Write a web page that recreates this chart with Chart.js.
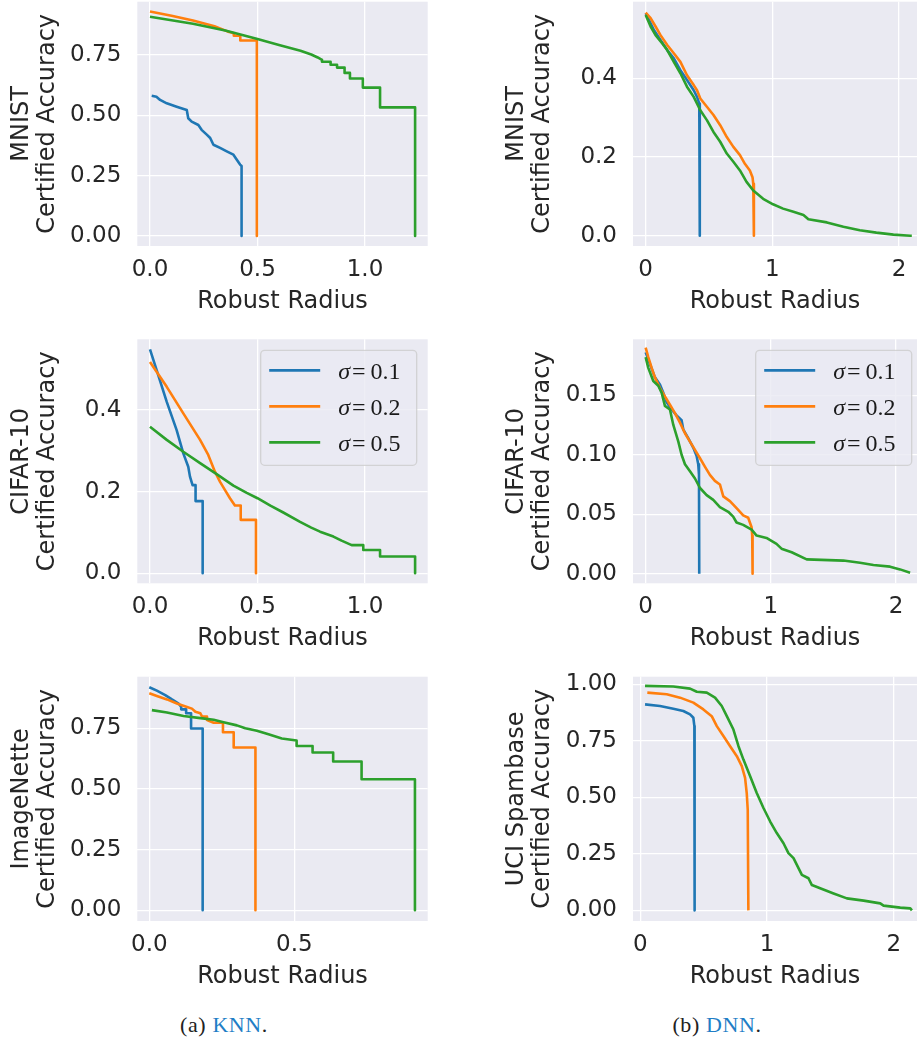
<!DOCTYPE html>
<html>
<head>
<meta charset="utf-8">
<script src="https://cdn.jsdelivr.net/npm/chart.js@4.4.1/dist/chart.umd.min.js"></script>
<style>
html,body{margin:0;padding:0;background:#fff;overflow:hidden;width:917px;height:1046px;}
canvas.panel{position:absolute;}
.cap{position:absolute;width:240px;text-align:center;font-family:"Liberation Serif",serif;font-size:22px;letter-spacing:0.6px;line-height:24px;color:#222;top:1013px;}
.cap span{color:#1f7ec6;}
</style>
</head>
<body>
<canvas id="c1" class="panel"></canvas>
<canvas id="c2" class="panel"></canvas>
<canvas id="c3" class="panel"></canvas>
<canvas id="c4" class="panel"></canvas>
<canvas id="c5" class="panel"></canvas>
<canvas id="c6" class="panel"></canvas>
<div class="cap" style="left:104px">(a) <span>KNN</span>.</div>
<div class="cap" style="left:597px">(b) <span>DNN</span>.</div>
<script>
// ---------------- data ----------------
const sigmaValues = ['0.1', '0.2', '0.5'];
const xTitle = 'Robust Radius';
const yTitleLine2 = 'Certified Accuracy';
const datasetNames = ['MNIST', 'MNIST', 'CIFAR-10', 'CIFAR-10', 'ImageNette', 'UCI Spambase'];

// tick values / labels
const ticksX_knnA = [0, 0.5, 1.0];       const labelsX_knnA = ['0.0', '0.5', '1.0'];
const ticksX_knnB = [0, 0.5];            const labelsX_knnB = ['0.0', '0.5'];
const ticksX_dnn = [0, 1, 2];            const labelsX_dnn = ['0', '1', '2'];
const ticksY_quarter = [0, 0.25, 0.5, 0.75];        const labelsY_quarter = ['0.00', '0.25', '0.50', '0.75'];
const ticksY_quarter1 = [0, 0.25, 0.5, 0.75, 1.0];  const labelsY_quarter1 = ['0.00', '0.25', '0.50', '0.75', '1.00'];
const ticksY_fifth = [0, 0.2, 0.4];                 const labelsY_fifth = ['0.0', '0.2', '0.4'];
const ticksY_small = [0, 0.05, 0.10, 0.15];         const labelsY_small = ['0.00', '0.05', '0.10', '0.15'];

// KNN - MNIST
const knnMnist01 = [[0.008,0.581],[0.03,0.577],[0.047,0.564],[0.078,0.55],[0.124,0.536],[0.171,0.522],[0.178,0.488],[0.194,0.474],[0.225,0.46],[0.24,0.44],[0.264,0.42],[0.28,0.406],[0.295,0.378],[0.326,0.365],[0.357,0.351],[0.388,0.337],[0.403,0.317],[0.419,0.296],[0.426,0.29],[0.426,0]];
const knnMnist02 = [[0,0.93],[0.1,0.913],[0.2,0.893],[0.3,0.869],[0.36,0.848],[0.39,0.84],[0.39,0.83],[0.42,0.83],[0.42,0.81],[0.497,0.81],[0.497,0]];
const knnMnist05 = [[0,0.909],[0.2,0.88],[0.35,0.852],[0.5,0.816],[0.6,0.792],[0.7,0.768],[0.75,0.752],[0.78,0.74],[0.8,0.73],[0.8,0.722],[0.84,0.722],[0.84,0.71],[0.87,0.71],[0.87,0.698],[0.905,0.698],[0.905,0.676],[0.93,0.676],[0.93,0.653],[0.99,0.653],[0.99,0.615],[1.07,0.615],[1.07,0.533],[1.233,0.533],[1.233,0]];

// DNN - MNIST
const dnnMnist01 = [[0,0.566],[0.065,0.523],[0.117,0.498],[0.17,0.472],[0.222,0.451],[0.274,0.421],[0.326,0.396],[0.379,0.37],[0.405,0.353],[0.423,0.336],[0.426,0.319],[0.428,0]];
const dnnMnist02 = [[0,0.567],[0.039,0.553],[0.078,0.532],[0.117,0.51],[0.17,0.485],[0.222,0.464],[0.274,0.442],[0.326,0.408],[0.379,0.383],[0.405,0.37],[0.431,0.349],[0.483,0.328],[0.535,0.307],[0.588,0.281],[0.64,0.251],[0.692,0.226],[0.744,0.205],[0.783,0.183],[0.822,0.166],[0.843,0.149],[0.849,0.132],[0.854,0]];
const dnnMnist05 = [[0,0.561],[0.039,0.532],[0.078,0.51],[0.131,0.489],[0.17,0.472],[0.222,0.442],[0.274,0.413],[0.326,0.379],[0.379,0.353],[0.431,0.319],[0.483,0.294],[0.535,0.264],[0.588,0.239],[0.64,0.209],[0.692,0.188],[0.744,0.166],[0.796,0.137],[0.849,0.115],[0.927,0.094],[1.005,0.08],[1.084,0.069],[1.166,0.061],[1.245,0.053],[1.284,0.042],[1.43,0.034],[1.56,0.023],[1.69,0.014],[1.82,0.008],[1.955,0.003],[2.087,0.0],[2.1,0.0]];

// KNN - CIFAR-10
const knnCifar01 = [[0,0.549],[0.031,0.498],[0.078,0.42],[0.124,0.351],[0.155,0.294],[0.178,0.261],[0.186,0.237],[0.198,0.216],[0.212,0.216],[0.212,0.177],[0.245,0.177],[0.245,0]];
const knnCifar02 = [[0,0.518],[0.078,0.457],[0.155,0.392],[0.233,0.327],[0.271,0.29],[0.302,0.249],[0.326,0.224],[0.349,0.204],[0.372,0.184],[0.395,0.166],[0.422,0.166],[0.422,0.131],[0.493,0.131],[0.493,0]];
const knnCifar05 = [[0,0.359],[0.078,0.327],[0.155,0.298],[0.233,0.27],[0.31,0.243],[0.388,0.215],[0.45,0.197],[0.5,0.184],[0.56,0.166],[0.62,0.149],[0.698,0.126],[0.75,0.112],[0.791,0.102],[0.853,0.09],[0.891,0.08],[0.938,0.069],[0.992,0.069],[0.992,0.057],[1.07,0.057],[1.07,0.041],[1.233,0.041],[1.233,0]];

// DNN - CIFAR-10
const dnnCifar01 = [[0,0.186],[0.035,0.176],[0.074,0.165],[0.114,0.159],[0.141,0.152],[0.168,0.144],[0.207,0.138],[0.247,0.133],[0.287,0.129],[0.301,0.121],[0.34,0.114],[0.38,0.106],[0.407,0.099],[0.42,0.092],[0.426,0.083],[0.428,0]];
const dnnCifar02 = [[0,0.19],[0.021,0.182],[0.048,0.173],[0.074,0.165],[0.114,0.156],[0.154,0.149],[0.194,0.142],[0.234,0.135],[0.274,0.127],[0.314,0.118],[0.354,0.111],[0.394,0.104],[0.434,0.097],[0.473,0.09],[0.513,0.083],[0.553,0.078],[0.593,0.075],[0.62,0.065],[0.673,0.061],[0.726,0.055],[0.779,0.049],[0.819,0.047],[0.846,0.039],[0.851,0.032],[0.854,0]];
const dnnCifar05 = [[0,0.182],[0.021,0.173],[0.061,0.162],[0.101,0.158],[0.128,0.152],[0.154,0.141],[0.194,0.138],[0.221,0.125],[0.261,0.111],[0.287,0.1],[0.314,0.092],[0.354,0.086],[0.394,0.08],[0.434,0.072],[0.487,0.066],[0.54,0.062],[0.593,0.056],[0.66,0.052],[0.699,0.048],[0.726,0.043],[0.779,0.041],[0.846,0.037],[0.886,0.032],[0.965,0.03],[1.045,0.025],[1.085,0.021],[1.166,0.018],[1.286,0.012],[1.579,0.011],[1.712,0.0092],[1.819,0.0073],[1.952,0.0059],[2.032,0.0036],[2.112,0.0008]];

// KNN - ImageNette
const knnImagenette01 = [[0,0.919],[0.026,0.905],[0.055,0.887],[0.078,0.869],[0.101,0.852],[0.11,0.838],[0.11,0.828],[0.127,0.828],[0.127,0.812],[0.144,0.812],[0.144,0.749],[0.184,0.749],[0.184,0]];
const knnImagenette02 = [[0,0.894],[0.026,0.883],[0.061,0.869],[0.095,0.852],[0.13,0.838],[0.147,0.831],[0.159,0.818],[0.176,0.812],[0.182,0.798],[0.199,0.798],[0.199,0.784],[0.222,0.773],[0.254,0.773],[0.254,0.734],[0.291,0.734],[0.291,0.671],[0.366,0.671],[0.366,0]];
const knnImagenette05 = [[0.009,0.825],[0.061,0.815],[0.118,0.801],[0.176,0.792],[0.222,0.785],[0.256,0.775],[0.302,0.762],[0.331,0.75],[0.371,0.74],[0.411,0.725],[0.457,0.708],[0.508,0.7],[0.508,0.677],[0.563,0.677],[0.563,0.65],[0.634,0.65],[0.634,0.613],[0.732,0.613],[0.732,0.54],[0.916,0.54],[0.916,0]];

// DNN - UCI Spambase
const dnnSpam01 = [[0.037,0.911],[0.155,0.904],[0.26,0.892],[0.339,0.882],[0.392,0.867],[0.418,0.852],[0.426,0.815],[0.428,0]];
const dnnSpam02 = [[0.055,0.963],[0.208,0.956],[0.313,0.941],[0.418,0.919],[0.497,0.889],[0.563,0.859],[0.603,0.815],[0.655,0.771],[0.708,0.726],[0.761,0.682],[0.8,0.638],[0.826,0.586],[0.839,0.519],[0.847,0.445],[0.852,0]];
const dnnSpam05 = [[0.037,0.993],[0.26,0.99],[0.392,0.981],[0.445,0.967],[0.524,0.963],[0.589,0.941],[0.642,0.904],[0.682,0.859],[0.734,0.8],[0.774,0.726],[0.813,0.667],[0.866,0.593],[0.918,0.519],[0.971,0.453],[1.024,0.393],[1.076,0.342],[1.129,0.297],[1.168,0.253],[1.208,0.231],[1.274,0.157],[1.326,0.142],[1.353,0.112],[1.418,0.098],[1.524,0.075],[1.629,0.053],[1.761,0.043],[1.892,0.031],[1.918,0.021],[2.05,0.012],[2.129,0.009],[2.142,0]];

// ---------------- styling / layout ----------------
const COLORS = ['#1f77b4', '#ff7f0e', '#2ca02c'];
const FONT = '"DejaVu Sans", sans-serif';
const TXT = '#262626';
const XH = 70;

const bgPlugin = {
  id: 'bgfill',
  beforeDraw(chart) {
    const {ctx, chartArea: a} = chart;
    ctx.save();
    ctx.fillStyle = '#EAEAF2';
    ctx.fillRect(a.left, a.top, a.right - a.left, a.bottom - a.top);
    ctx.restore();
  }
};

const legendPlugin = {
  id: 'sigmaLegend',
  afterDatasetsDraw(chart, args, opts) {
    if (!opts || !opts.show) return;
    const {ctx, chartArea: a} = chart;
    const W = 156, H = 115, r = 4;
    const x0 = a.right - opts.rightGap - W, y0 = a.top + opts.topGap;
    ctx.save();
    ctx.beginPath();
    ctx.moveTo(x0 + r, y0);
    ctx.arcTo(x0 + W, y0, x0 + W, y0 + H, r);
    ctx.arcTo(x0 + W, y0 + H, x0, y0 + H, r);
    ctx.arcTo(x0, y0 + H, x0, y0, r);
    ctx.arcTo(x0, y0, x0 + W, y0, r);
    ctx.closePath();
    ctx.fillStyle = 'rgba(234,234,242,0.8)';
    ctx.fill();
    ctx.strokeStyle = 'rgba(204,204,204,0.8)';
    ctx.lineWidth = 1.3;
    ctx.stroke();
    chart.data.datasets.forEach((ds, i) => {
      const yy = y0 + 20 + i * 36;
      ctx.strokeStyle = ds.borderColor;
      ctx.lineWidth = 2.7;
      ctx.lineCap = 'butt';
      ctx.beginPath();
      ctx.moveTo(x0 + 8.5, yy);
      ctx.lineTo(x0 + 59.5, yy);
      ctx.stroke();
      let tx = x0 + 77.5;
      ctx.fillStyle = '#1a1a1a';
      ctx.textBaseline = 'middle';
      ctx.textAlign = 'left';
      ctx.font = 'italic 24px "Liberation Serif"';
      ctx.fillText('σ', tx, yy + 2);
      tx += ctx.measureText('σ').width + 2;
      ctx.font = '24px "Liberation Serif"';
      ctx.fillText('=', tx, yy + 2);
      tx += ctx.measureText('=').width + 5;
      ctx.fillText(sigmaValues[i], tx, yy + 2);
    });
    ctx.restore();
  }
};

const panels = [
  {id:'c1', box:[0,0,440,320],   plot:[137.3,1.7,427.7,246],   xr:[-0.059,1.2916], yr:[-0.0414,0.971],
   xt:ticksX_knnA, xl:labelsX_knnA, yt:ticksY_quarter, yl:labelsY_quarter, name:datasetNames[0], tpad:9,
   series:[knnMnist01,knnMnist02,knnMnist05], legend:null},
  {id:'c2', box:[460,0,457,320], plot:[633,1.7,917,246],       xr:[-0.1,2.141],    yr:[-0.026,0.595],
   xt:ticksX_dnn, xl:labelsX_dnn, yt:ticksY_fifth, yl:labelsY_fifth, name:datasetNames[1], tpad:43.7,
   series:[dnnMnist01,dnnMnist02,dnnMnist05], legend:null},
  {id:'c3', box:[0,330,440,330], plot:[137.3,339.3,427.7,583.3], xr:[-0.059,1.2916], yr:[-0.0245,0.5735],
   xt:ticksX_knnA, xl:labelsX_knnA, yt:ticksY_fifth, yl:labelsY_fifth, name:datasetNames[2], tpad:9,
   series:[knnCifar01,knnCifar02,knnCifar05], legend:{show:true,rightGap:11,topGap:11}},
  {id:'c4', box:[460,330,457,330], plot:[633,339.3,917,583.3], xr:[-0.101,2.167], yr:[-0.0081,0.197],
   xt:ticksX_dnn, xl:labelsX_dnn, yt:ticksY_small, yl:labelsY_small, name:datasetNames[3], tpad:43.7,
   series:[dnnCifar01,dnnCifar02,dnnCifar05], legend:{show:true,rightGap:5.3,topGap:11}},
  {id:'c5', box:[0,660,440,340], plot:[137.3,676.7,427.7,921], xr:[-0.0414,0.96], yr:[-0.044,0.9626],
   xt:ticksX_knnB, xl:labelsX_knnB, yt:ticksY_quarter, yl:labelsY_quarter, name:datasetNames[4], tpad:9,
   series:[knnImagenette01,knnImagenette02,knnImagenette05], legend:null},
  {id:'c6', box:[460,660,457,340], plot:[633,676.7,917,921],   xr:[-0.058,2.182], yr:[-0.047,1.0336],
   xt:ticksX_dnn, xl:labelsX_dnn, yt:ticksY_quarter1, yl:labelsY_quarter1, name:datasetNames[5], tpad:43.7,
   series:[dnnSpam01,dnnSpam02,dnnSpam05], legend:null}
];

function zeroPad(s) { s.paddingLeft = 0; s.paddingRight = 0; s.paddingTop = 0; s.paddingBottom = 0; }

panels.forEach(p => {
  const [bl, bt, bw, bh] = p.box;
  const cv = document.getElementById(p.id);
  cv.width = bw; cv.height = bh;
  cv.style.left = bl + 'px'; cv.style.top = bt + 'px';
  cv.style.width = bw + 'px'; cv.style.height = bh + 'px';
  const yW = p.plot[0] - bl;
  const padTop = p.plot[1] - bt;
  const padRight = bl + bw - p.plot[2];
  const padBottom = bt + bh - p.plot[3] - XH;
  const gridOpts = {color: '#ffffff', lineWidth: 1.3, drawTicks: false};
  new Chart(cv, {
    type: 'line',
    data: {
      datasets: p.series.map((s, i) => ({
        label: 'σ=' + sigmaValues[i],
        data: s.map(([x, y]) => ({x, y})),
        borderColor: COLORS[i],
        backgroundColor: COLORS[i],
        borderWidth: 2.6,
        borderJoinStyle: 'round',
        pointRadius: 0,
        tension: 0,
        fill: false,
        order: 2 - i
      }))
    },
    options: {
      responsive: false,
      animation: false,
      devicePixelRatio: 1,
      layout: {padding: {left: 0, top: padTop, right: padRight, bottom: padBottom}, autoPadding: false},
      plugins: {
        legend: {display: false},
        tooltip: {enabled: false},
        sigmaLegend: p.legend || {show: false}
      },
      scales: {
        x: {
          type: 'linear', min: p.xr[0], max: p.xr[1],
          afterBuildTicks: s => { s.ticks = p.xt.map(v => ({value: v})); },
          afterFit: s => { s.height = XH; zeroPad(s); },
          ticks: {callback: (v, i) => p.xl[i], font: {family: FONT, size: 23, lineHeight: 1.2}, color: TXT, padding: 10, maxRotation: 0, autoSkip: false},
          grid: gridOpts,
          border: {display: false},
          title: {display: true, text: xTitle, font: {family: FONT, size: 24, lineHeight: '26px'}, color: TXT, padding: {top: 0, bottom: 1.5}}
        },
        y: {
          type: 'linear', min: p.yr[0], max: p.yr[1],
          afterBuildTicks: s => { s.ticks = p.yt.map(v => ({value: v})); },
          afterFit: s => { s.width = yW; zeroPad(s); },
          ticks: {callback: (v, i) => p.yl[i], font: {family: FONT, size: 23, lineHeight: 1.2}, color: TXT, padding: 16, autoSkip: false},
          grid: gridOpts,
          border: {display: false},
          title: {display: true, text: [p.name, yTitleLine2], font: {family: FONT, size: 24, lineHeight: '26px'}, color: TXT, padding: {top: p.tpad, bottom: 0}}
        }
      }
    },
    plugins: [bgPlugin, legendPlugin]
  });
});
</script>
</body>
</html>
